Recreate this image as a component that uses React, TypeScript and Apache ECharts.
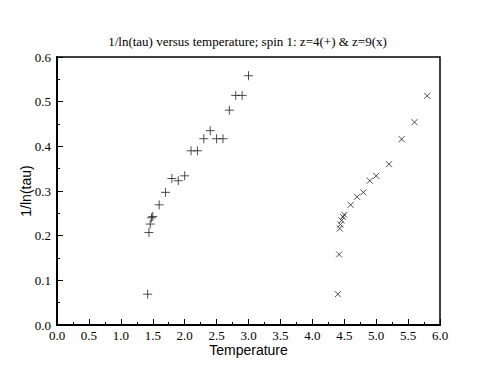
import React, { useEffect, useRef } from "react";
import * as echarts from "echarts";

const titleText = "1/ln(tau) versus temperature; spin 1: z=4(+) & z=9(x)";
const xAxisName = "Temperature";
const yAxisName = "1/ln(tau)";

const z4Temps = [1.42, 1.44, 1.46, 1.48, 1.5, 1.6, 1.7, 1.8, 1.9, 2.0, 2.1, 2.2, 2.3, 2.4, 2.5, 2.6, 2.7, 2.8, 2.9, 3.0];
const z4Values = [0.069, 0.207, 0.226, 0.240, 0.243, 0.269, 0.297, 0.328, 0.323, 0.334, 0.390, 0.390, 0.417, 0.435, 0.417, 0.417, 0.481, 0.514, 0.514, 0.558];

const z9Temps = [4.4, 4.42, 4.43, 4.44, 4.46, 4.48, 4.5, 4.6, 4.7, 4.8, 4.9, 5.0, 5.2, 5.4, 5.6, 5.8];
const z9Values = [0.069, 0.158, 0.216, 0.225, 0.234, 0.242, 0.247, 0.269, 0.287, 0.297, 0.323, 0.334, 0.360, 0.416, 0.454, 0.513];

const PLUS = "path://M0,5L10,5M5,0L5,10";
const CROSS = "path://M0,0L10,10M10,0L0,10";

export default function App() {
  const ref = useRef<HTMLDivElement>(null);
  useEffect(() => {
    document.body.style.margin = "0";
    const chart = echarts.init(ref.current!, null, { renderer: "svg" });
    const serif = "Liberation Serif";
    const sans = "Liberation Sans";
    chart.setOption({
      animation: false,
      backgroundColor: "#fff",
      title: {
        text: titleText,
        left: "center",
        top: 30,
        textStyle: { fontFamily: serif, fontSize: 13, fontWeight: "normal", color: "#000" },
      },
      grid: {
        left: 57,
        right: 55,
        top: 57,
        bottom: 58,
        show: true,
        borderColor: "#000",
        borderWidth: 1.5,
        backgroundColor: "transparent",
      },
      xAxis: {
        type: "value",
        min: 0,
        max: 6,
        interval: 0.5,
        name: xAxisName,
        nameLocation: "middle",
        nameGap: 18,
        nameMoveOverlap: false,
        nameTextStyle: { fontFamily: sans, fontSize: 14, color: "#000" },
        axisLine: { show: true, lineStyle: { color: "#000", width: 2 } },
        axisTick: { show: true, inside: true, length: 6, lineStyle: { color: "#000", width: 1 } },
        minorTick: { show: true, splitNumber: 2, length: 3, lineStyle: { color: "#000", width: 1 } },
        splitLine: { show: false },
        axisLabel: {
          fontFamily: serif,
          fontSize: 13,
          color: "#000",
          margin: 4,
          formatter: (v: number) => v.toFixed(1),
        },
      },
      yAxis: {
        type: "value",
        min: 0,
        max: 0.6,
        interval: 0.1,
        name: yAxisName,
        nameLocation: "middle",
        nameGap: 24,
        nameMoveOverlap: false,
        nameRotate: 90,
        nameTextStyle: { fontFamily: sans, fontSize: 14, color: "#000" },
        axisLine: { show: true, lineStyle: { color: "#000", width: 2 } },
        axisTick: { show: true, inside: true, length: 6, lineStyle: { color: "#000", width: 1 } },
        minorTick: { show: true, splitNumber: 2, length: 3, lineStyle: { color: "#000", width: 1 } },
        splitLine: { show: false },
        axisLabel: {
          fontFamily: serif,
          fontSize: 13,
          color: "#000",
          margin: 6,
          formatter: (v: number) => v.toFixed(1),
        },
      },
      series: [
        {
          type: "scatter",
          name: "z=4",
          symbol: PLUS,
          symbolSize: 9,
          data: z4Temps.map((t, i) => [t, z4Values[i]]),
          itemStyle: { color: "none", borderColor: "#222", borderWidth: 1 },
        },
        {
          type: "scatter",
          name: "z=9",
          symbol: CROSS,
          symbolSize: 6,
          data: z9Temps.map((t, i) => [t, z9Values[i]]),
          itemStyle: { color: "none", borderColor: "#222", borderWidth: 1 },
        },
      ],
    });
    return () => chart.dispose();
  }, []);
  return <div ref={ref} style={{ width: 495, height: 383 }} />;
}
